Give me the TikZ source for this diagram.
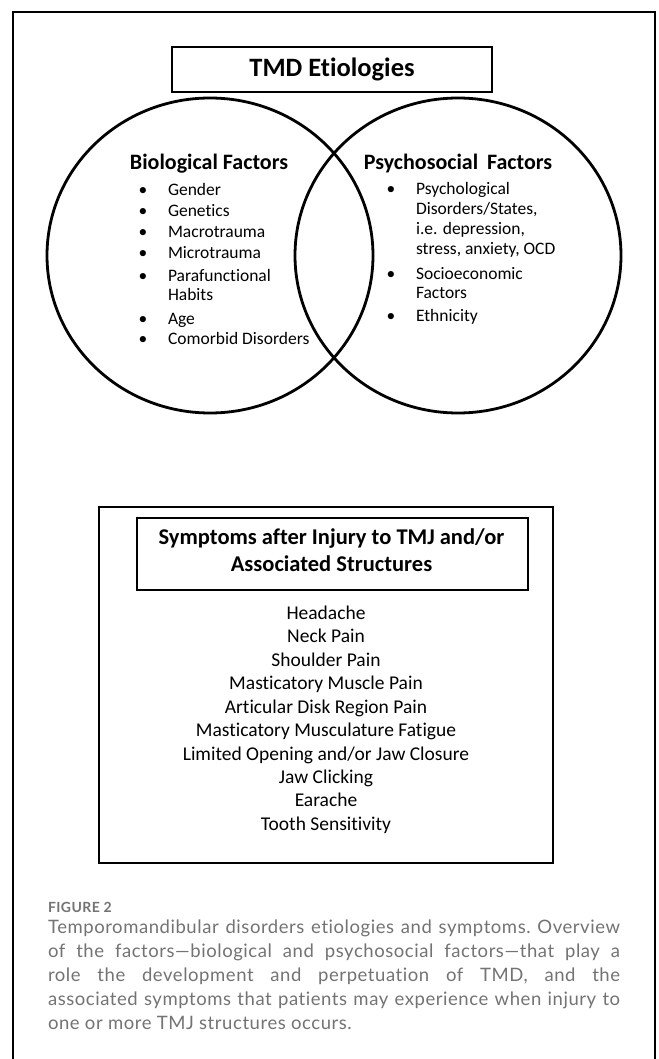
\documentclass[tikz,border=0pt]{standalone}
\usepackage{fontspec}
\setmainfont{Carlito}[Ligatures=NoCommon]
\newfontfamily\capfont{Lato}[LetterSpace=3,Ligatures=NoCommon]
\usetikzlibrary{shapes.geometric}
\definecolor{capgray}{gray}{0.45}
\newcommand\fTitle{\fontsize{26.5}{30}\selectfont\bfseries}
\newcommand\fHead{\fontsize{22}{26}\selectfont\bfseries}
\newcommand\fList{\fontsize{17.5}{20}\selectfont}
\newcommand\fSymTitle{\fontsize{22.5}{27}\selectfont\bfseries}
\newcommand\fSym{\fontsize{19.5}{23}\selectfont}
\begin{document}
\begin{tikzpicture}[x=1pt,y=-1pt,
  txt/.style={inner sep=0pt, outer sep=0pt},
  item/.style={txt, anchor=mid west, font=\fList},
  dot/.style={txt, anchor=mid, font=\fList},
  heavy/.style={draw, line width=2.8pt},
  venn/.style={draw, ellipse, line width=2.8pt, minimum width=326pt, minimum height=315pt, inner sep=0pt},
  sym/.style={txt, anchor=mid, font=\fSym},
  captxt/.style={txt, text=capgray}]
\useasboundingbox (0,0) rectangle (658,1059);
\fill[white] (0,0) rectangle (658,1059);
% outer frame
\draw[line width=1.4pt] (13,1060) -- (13,12) -- (655,12) -- (655,1060);
% title
\node[heavy, minimum width=320pt, minimum height=45pt, inner sep=0pt, font=\fTitle] (title) at (332,69.5) {TMD Etiologies};
% circles
\node[venn] (bio) at (210,255.5) {};
\node[venn] (psy) at (458,255.5) {};
% headings
\node[txt, anchor=mid, font=\fHead] (bioh) at (209,167) {Biological Factors};
\node[txt, anchor=mid, font=\fHead] (psyh) at (458,167) {Psychosocial\hspace{0.4em}Factors};
% left list
\foreach \t/\yy [count=\i] in {Gender/193, Genetics/214, Macrotrauma/235, Microtrauma/256, Parafunctional/279, Age/322, Comorbid Disorders/342}{
  \node[dot] (lb\i) at (143,\yy) {•};
  \node[item] (lt\i) at (168,\yy) {\t};
}
\node[item] (lt5b) at (168,298) {Habits};
% right list
\node[dot] (rb1) at (391,192) {•};
\node[item] (rt1) at (416,192) {Psychological};
\node[item] (rt1b) at (416,212) {Disorders/States,};
\node[item] (rt1c) at (416,232) {i.e. depression,};
\node[item] (rt1d) at (416,252) {stress, anxiety, OCD};
\node[dot] (rb2) at (391,277) {•};
\node[item] (rt2) at (416,277) {Socioeconomic};
\node[item] (rt2b) at (416,296) {Factors};
\node[dot] (rb3) at (391,319) {•};
\node[item] (rt3) at (416,319) {Ethnicity};
% symptoms box
\node[heavy, minimum width=454pt, minimum height=356pt, inner sep=0pt] (symbox) at (326,685) {};
\node[heavy, minimum width=391pt, minimum height=72pt, inner sep=0pt] (symhead) at (332.5,554) {};
\node[txt, anchor=mid, font=\fSymTitle] (sh1) at (331.5,542) {Symptoms after Injury to TMJ and/or};
\node[txt, anchor=mid, font=\fSymTitle] (sh2) at (331.5,569) {Associated Structures};
\foreach \t [count=\i] in {Headache, Neck Pain, Shoulder Pain, Masticatory Muscle Pain, Articular Disk Region Pain, Masticatory Musculature Fatigue, Limited Opening and/or Jaw Closure, Jaw Clicking, Earache, Tooth Sensitivity}{
  \node[sym] (s\i) at (326,{617+23.45*(\i-1)}) {\t};
}
% caption
\node[captxt, anchor=mid west, font=\capfont\bfseries\fontsize{14}{16}\selectfont] (figlab) at (48,910) {FIGURE 2};
\node[captxt, anchor=north west, text width=572pt, align=justify,
  font=\capfont\fontsize{18.5}{24}\selectfont] (caption) at (48,920)
  {\frenchspacing\hyphenpenalty=10000\tolerance=10000\emergencystretch=20pt Temporomandibular disorders etiologies and symptoms. Overview\linebreak of the factors—biological and psychosocial factors—that play a\linebreak role the development and perpetuation of TMD, and the\linebreak associated symptoms that patients may experience when injury to\linebreak one or more TMJ structures occurs.};
\end{tikzpicture}
\end{document}
